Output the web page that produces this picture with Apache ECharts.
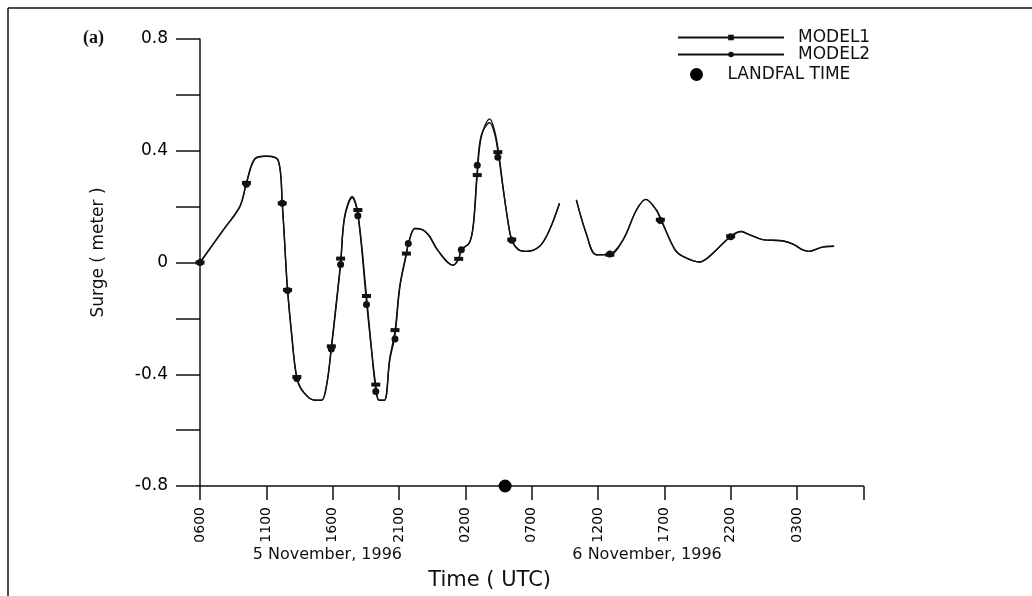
<!DOCTYPE html>
<html>
<head>
<meta charset="utf-8">
<script src="https://cdn.jsdelivr.net/npm/echarts@6/dist/echarts.min.js"></script>
<style>
html,body{margin:0;padding:0;background:#fff;}
#c{width:1032px;height:596px;}
</style>
</head>
<body>
<div id="c"></div>
<script>
// Hours since 0600 UTC, 5 November 1996
const hours = [0, 1.76, 3.0, 3.5, 4.14, 5.0, 5.9, 6.2, 6.5, 6.6, 6.9, 7.3, 7.8, 8.66, 9.16, 9.54, 9.9, 10.3, 10.6, 10.9, 11.47, 11.9, 12.55, 12.93, 13.25, 13.5, 13.9, 14.3, 14.7, 15.06, 15.56, 15.7, 16.2, 16.8, 17.3, 17.9, 19.07, 19.5, 19.7, 20.3, 20.6, 20.9, 21.2, 21.84, 22.2, 22.5, 22.84, 23.2, 23.5, 24.0, 24.6, 25.6, 26.35, 27.1, 27.7, 28.37, 29.1, 29.87, 30.87, 31.9, 32.9, 33.6, 34.4, 34.77, 35.8, 36.4, 37.65, 38.4, 40.0, 40.8, 41.4, 42.4, 43.9, 44.7, 45.4, 45.9, 46.9, 47.8];
const model1 = [0, 0.117, 0.2, 0.285, 0.372, 0.381, 0.366, 0.212, -0.025, -0.098, -0.25, -0.41, -0.463, -0.493, -0.493, -0.44, -0.303, -0.132, 0.0, 0.165, 0.236, 0.177, -0.12, -0.31, -0.44, -0.493, -0.493, -0.345, -0.245, -0.084, 0.034, 0.064, 0.123, 0.117, 0.094, 0.045, -0.01, 0.013, 0.046, 0.07, 0.13, 0.313, 0.449, 0.514, 0.473, 0.396, 0.271, 0.153, 0.082, 0.046, 0.04, 0.058, 0.117, 0.212, null, 0.224, 0.106, 0.028, 0.028, 0.082, 0.188, 0.226, 0.188, 0.153, 0.046, 0.022, 0.002, 0.022, 0.094, 0.111, 0.1, 0.082, 0.078, 0.066, 0.046, 0.04, 0.055, 0.058];
const model2 = [0, 0.117, 0.2, 0.283, 0.37, 0.38, 0.364, 0.21, -0.03, -0.1, -0.255, -0.415, -0.465, -0.493, -0.493, -0.44, -0.31, -0.14, -0.005, 0.16, 0.232, 0.172, -0.14, -0.315, -0.455, -0.493, -0.493, -0.35, -0.26, -0.09, 0.03, 0.066, 0.121, 0.117, 0.094, 0.045, -0.01, 0.013, 0.046, 0.07, 0.135, 0.33, 0.455, 0.5, 0.462, 0.385, 0.268, 0.15, 0.08, 0.046, 0.04, 0.058, 0.117, 0.212, null, 0.224, 0.106, 0.028, 0.03, 0.082, 0.188, 0.226, 0.188, 0.15, 0.046, 0.022, 0.002, 0.022, 0.092, 0.111, 0.1, 0.082, 0.078, 0.066, 0.046, 0.04, 0.055, 0.058];
// Marker positions [hour, surge]
const model1Marks = [[0,0],[3.5,0.285],[6.2,0.212],[6.6,-0.098],[7.3,-0.41],[9.9,-0.30],[10.6,0.014],[11.9,0.188],[12.55,-0.12],[13.25,-0.437],[14.7,-0.242],[15.56,0.032],[19.5,0.013],[20.9,0.313],[22.45,0.395],[23.5,0.082],[30.9,0.028],[34.7,0.153],[40.0,0.094]];
const model2Marks = [[0,0],[3.5,0.28],[6.2,0.212],[6.6,-0.10],[7.3,-0.415],[9.9,-0.31],[10.6,-0.007],[11.9,0.167],[12.55,-0.15],[13.25,-0.462],[14.7,-0.274],[15.7,0.068],[19.7,0.046],[20.9,0.348],[22.45,0.377],[23.5,0.08],[30.9,0.03],[34.7,0.15],[40.0,0.092]];
const landfall = [[23, -0.8]];
const xTickLabels = ['0600','1100','1600','2100','0200','0700','1200','1700','2200','0300',''];
const yTickLabels = {'0.8':'0.8','0.4':'0.4','0':'0','-0.4':'-0.4','-0.8':'-0.8'};
const dateLabels = [['5 November, 1996', 9.6], ['6 November, 1996', 33.7]];

const FONT = 'DejaVu Sans';
const toPairs = (vals) => hours.map((h, i) => [h, vals[i] === null ? '-' : vals[i]]);

const chart = echarts.init(document.getElementById('c'), null, {renderer: 'canvas'});
const option = {
  backgroundColor: '#fff',
  animation: false,
  title: {
    text: '(a)', left: 83, top: 29, padding: 0,
    textStyle: {fontFamily: 'Liberation Serif', fontWeight: 'bold', fontSize: 18, color: '#111'}
  },
  legend: [
    {
      data: ['MODEL1', 'MODEL2'], orient: 'vertical', left: 677, top: 29, padding: 0,
      itemWidth: 106, itemHeight: 7, itemGap: 0,
      textStyle: {fontFamily: FONT, fontSize: 17, color: '#111', lineHeight: 16, padding: [0,0,0,9]}
    },
    {
      data: ['LANDFAL TIME'], orient: 'vertical', left: 690, top: 66, padding: 0,
      itemWidth: 14, itemHeight: 13,
      textStyle: {fontFamily: FONT, fontSize: 17, color: '#111', lineHeight: 16, padding: [0,0,0,19]}
    }
  ],
  grid: {left: 200, top: 39, right: 168.7, bottom: 107, containLabel: false},
  xAxis: {
    type: 'value', min: 0, max: 50, interval: 5,
    name: 'Time ( UTC)', nameLocation: 'middle', nameGap: 84,
    nameTextStyle: {fontFamily: FONT, fontSize: 21, color: '#111', padding: [0, 84, 0, 0]},
    axisLine: {onZero: false, lineStyle: {color: '#111', width: 1.5}},
    axisTick: {show: true, length: 14, lineStyle: {color: '#111', width: 1.5}},
    axisLabel: {rotate: 90, margin: 21, fontFamily: FONT, fontSize: 14, color: '#000',
      formatter: (v) => xTickLabels[Math.round(v / 5)] || ''},
    splitLine: {show: false}
  },
  yAxis: {
    type: 'value', min: -0.8, max: 0.8, interval: 0.2,
    name: 'Surge ( meter )', nameLocation: 'middle', nameGap: 93, nameRotate: 90,
    nameTextStyle: {fontFamily: FONT, fontSize: 17, color: '#111', padding: [0, 0, 0, 20]},
    axisLine: {onZero: false, lineStyle: {color: '#111', width: 1.5}},
    axisTick: {show: true, length: 24, lineStyle: {color: '#111', width: 1.5}},
    axisLabel: {margin: 32, fontFamily: FONT, fontSize: 17, color: '#000',
      formatter: (v) => yTickLabels[String(Math.round(v * 10) / 10)] || ''},
    splitLine: {show: false}
  },
  series: [
    {
      name: 'MODEL1', type: 'line', data: toPairs(model1), connectNulls: false,
      smooth: 0.35, symbol: 'rect', symbolSize: [6, 4], showSymbol: false,
      lineStyle: {color: '#111', width: 1.4}, itemStyle: {color: '#111'}, z: 3
    },
    {
      name: 'MODEL2', type: 'line', data: toPairs(model2), connectNulls: false,
      smooth: 0.35, symbol: 'circle', symbolSize: 6, showSymbol: false,
      lineStyle: {color: '#111', width: 1.4}, itemStyle: {color: '#111'}, z: 3
    },
    {
      name: 'MODEL1 marks', type: 'scatter', data: model1Marks, symbol: 'rect', symbolSize: [9, 4],
      itemStyle: {color: '#111', opacity: 1}, z: 4
    },
    {
      name: 'MODEL2 marks', type: 'scatter', data: model2Marks, symbol: 'circle', symbolSize: 7,
      itemStyle: {color: '#111', opacity: 1}, z: 4
    },
    {
      name: 'LANDFAL TIME', type: 'scatter', data: landfall, symbol: 'circle', symbolSize: 13,
      itemStyle: {color: '#000', opacity: 1}, clip: false, z: 5
    }
  ]
};
chart.setOption(option);

const graphics = [
  {type: 'line', shape: {x1: 8, y1: 8, x2: 1032, y2: 8}, style: {stroke: '#111', lineWidth: 1.5}},
  {type: 'line', shape: {x1: 8, y1: 8, x2: 8, y2: 596}, style: {stroke: '#111', lineWidth: 1.5}}
];
dateLabels.forEach(([txt, h]) => {
  const p = chart.convertToPixel({gridIndex: 0}, [h, -0.8]);
  graphics.push({type: 'text', x: p[0], y: p[1] + 69,
    style: {text: txt, fontFamily: FONT, fontSize: 16, fill: '#111', textAlign: 'center', textVerticalAlign: 'middle'}});
});
chart.setOption({graphic: graphics});
</script>
</body>
</html>
